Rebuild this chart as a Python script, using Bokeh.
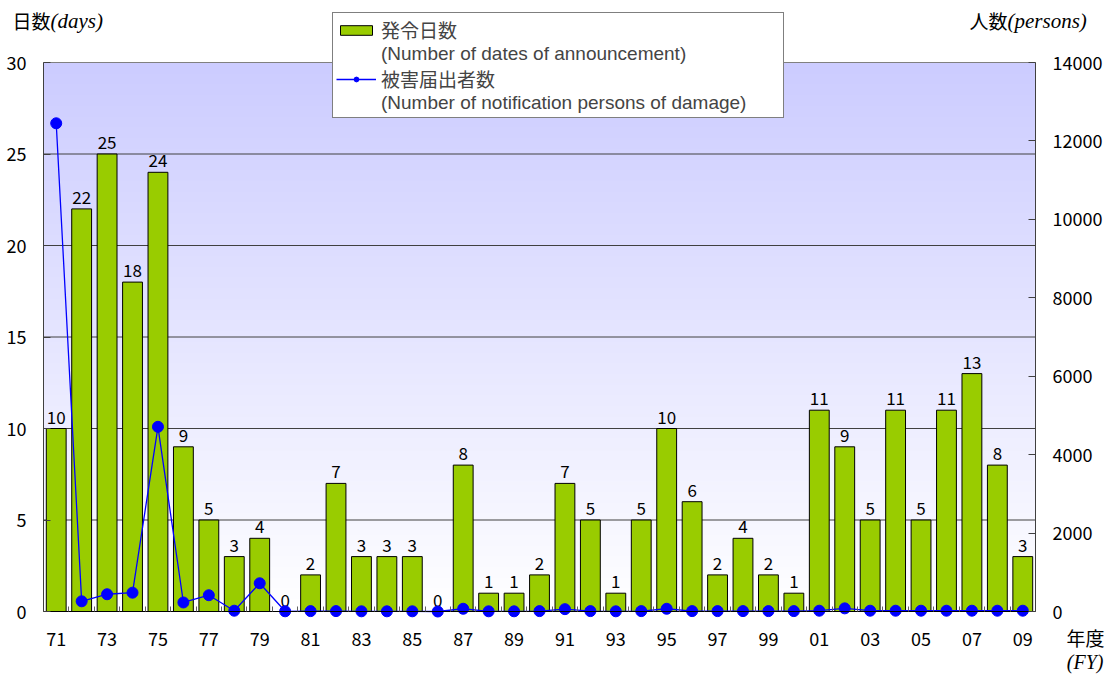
import numpy as np
from bokeh.plotting import figure
from bokeh.models import Range1d, LinearAxis, FixedTicker, Legend, LegendItem, Label
from bokeh.core.properties import value
from bokeh.embed import file_html
from bokeh.resources import INLINE

# ---------------- data ----------------
fiscal_years = [1971, 1972, 1973, 1974, 1975, 1976, 1977, 1978, 1979, 1980,
                1981, 1982, 1983, 1984, 1985, 1986, 1987, 1988, 1989, 1990,
                1991, 1992, 1993, 1994, 1995, 1996, 1997, 1998, 1999, 2000,
                2001, 2002, 2003, 2004, 2005, 2006, 2007, 2008, 2009]
year_labels = ["71", "72", "73", "74", "75", "76", "77", "78", "79", "80",
               "81", "82", "83", "84", "85", "86", "87", "88", "89", "90",
               "91", "92", "93", "94", "95", "96", "97", "98", "99", "00",
               "01", "02", "03", "04", "05", "06", "07", "08", "09"]
announcement_days = [10, 22, 25, 18, 24, 9, 5, 3, 4, 0,
                     2, 7, 3, 3, 3, 0, 8, 1, 1, 2,
                     7, 5, 1, 5, 10, 6, 2, 4, 2, 1,
                     11, 9, 5, 11, 5, 11, 13, 8, 3]
damage_persons = [12450, 260, 440, 480, 4710, 230, 415, 20, 720, 5,
                  10, 10, 5, 5, 5, 0, 70, 5, 5, 10,
                  60, 10, 5, 10, 70, 10, 10, 10, 10, 10,
                  20, 80, 20, 20, 20, 20, 20, 20, 20]
day_ticks = [0, 5, 10, 15, 20, 25, 30]
person_ticks = [0, 2000, 4000, 6000, 8000, 10000, 12000, 14000]
day_range = (0, 30)
person_range = (0, 14000)

# ---------------- layout / style ----------------
W, H = 1112, 674
PL, PR, PT, PB = 43, 1035, 62, 611   # plot-area edges in pixels

JP = "Noto Sans CJK JP"
LEGEND_FONT = "Liberation Sans, Noto Sans CJK JP"
SERIF = "Liberation Serif"
BAR_GREEN = "#99CC00"
BLUE = "#0000FF"

x0 = fiscal_years[0] - 0.5
x1 = fiscal_years[-1] + 0.5
xpp = (x1 - x0) / (PR - PL)
dpp = (day_range[1] - day_range[0]) / (PB - PT)
ppp = (person_range[1] - person_range[0]) / (PB - PT)

p = figure(width=W, height=H, output_backend="svg", toolbar_location=None,
           x_range=Range1d(x0 - PL * xpp, x1 + (W - PR) * xpp),
           y_range=Range1d(day_range[0] - (H - PB) * dpp, day_range[1] + PT * dpp),
           min_border_left=0, min_border_right=0, min_border_top=0, min_border_bottom=0)
p.extra_y_ranges = {"persons": Range1d(person_range[0] - (H - PB) * ppp,
                                       person_range[1] + PT * ppp)}
p.background_fill_color = "white"
p.border_fill_color = "white"
p.outline_line_color = None
p.xgrid.visible = False
p.ygrid.visible = False

# background gradient (lavender at top -> white at bottom)
n = 256
t = np.linspace(0.0, 1.0, n)[:, None]
top_rgb = np.array([204, 204, 255], dtype=float)[None, :]
bot_rgb = np.array([255, 255, 255], dtype=float)[None, :]
rgb = bot_rgb * (1 - t) + top_rgb * t
img = np.zeros((n, 1), dtype=np.uint32)
view = img.view(dtype=np.uint8).reshape((n, 1, 4))
view[:, 0, 0] = rgb[:, 0].astype(np.uint8)
view[:, 0, 1] = rgb[:, 1].astype(np.uint8)
view[:, 0, 2] = rgb[:, 2].astype(np.uint8)
view[:, 0, 3] = 255
p.image_rgba(image=[img], x=x0, y=day_range[0], dw=x1 - x0,
             dh=day_range[1] - day_range[0], level="image")

# horizontal grid lines limited to the plot area
inner = day_ticks[1:-1]
p.segment(x0=[x0] * len(inner), x1=[x1] * len(inner), y0=inner, y1=inner,
          line_color="#404040", line_width=1, level="underlay")
p.segment(x0=[x0], x1=[x1], y0=[day_range[1]], y1=[day_range[1]],
          line_color="#808080", line_width=1, level="underlay")

# bars
bars = p.vbar(x=fiscal_years, top=announcement_days, width=0.78,
              fill_color=BAR_GREEN, line_color="black", line_width=1)
p.text(x=fiscal_years, y=announcement_days, text=[str(d) for d in announcement_days],
       text_align="center", text_baseline="bottom", y_offset=-5,
       text_font=value(JP), text_font_size="17px", text_color="black")

# line
line = p.line(x=fiscal_years, y=damage_persons, y_range_name="persons",
              line_color=BLUE, line_width=1.3)
dots = p.scatter(x=fiscal_years, y=damage_persons, y_range_name="persons",
                 size=11, fill_color=BLUE, line_color=BLUE)

# axes (fixed at the plot-area edges)
tick_font = "18px"
yax = p.yaxis[0]
yax.fixed_location = x0
yax.bounds = day_range
yax.ticker = FixedTicker(ticks=day_ticks)
yax.major_tick_in = 7
yax.major_tick_out = 0
yax.minor_tick_line_color = None
yax.major_label_standoff = 17
yax.major_label_text_font = JP
yax.major_label_text_font_size = tick_font
yax.major_label_text_color = "black"
yax.axis_line_color = "#404040"
yax.major_tick_line_color = "#404040"

rax = LinearAxis(y_range_name="persons", ticker=FixedTicker(ticks=person_ticks),
                 fixed_location=x1, bounds=person_range)
rax.major_tick_in = 7
rax.major_tick_out = 0
rax.minor_tick_line_color = None
rax.major_label_standoff = 17
rax.major_label_text_font = JP
rax.major_label_text_font_size = tick_font
rax.major_label_text_color = "black"
rax.axis_line_color = "#404040"
rax.major_tick_line_color = "#404040"
p.add_layout(rax, "right")

boundaries = [y - 0.5 for y in fiscal_years] + [fiscal_years[-1] + 0.5]
xax = p.xaxis[0]
xax.fixed_location = day_range[0]
xax.bounds = (x0, x1)
xax.ticker = FixedTicker(ticks=fiscal_years[::2], minor_ticks=boundaries)
xax.major_label_overrides = {y: l for y, l in zip(fiscal_years, year_labels)}
xax.major_tick_in = 0
xax.major_tick_out = 0
xax.minor_tick_in = 5
xax.minor_tick_out = 0
xax.minor_tick_line_color = "#606060"
xax.major_label_standoff = 20
xax.major_label_text_font = JP
xax.major_label_text_font_size = tick_font
xax.major_label_text_color = "black"
xax.axis_line_color = "black"

# legend
blank1 = p.line(x=[], y=[], line_alpha=0)
blank2 = p.line(x=[], y=[], line_alpha=0)
legend = Legend(items=[
    LegendItem(label="発令日数", renderers=[bars]),
    LegendItem(label="(Number of dates of announcement)", renderers=[blank1]),
    LegendItem(label="被害届出者数", renderers=[line, dots]),
    LegendItem(label="(Number of notification persons of damage)", renderers=[blank2]),
], location=(332, H - 118))
legend.border_line_color = "black"
legend.border_line_width = 1
legend.background_fill_color = "white"
legend.background_fill_alpha = 1
legend.padding = 3
legend.spacing = -5
legend.margin = 0
legend.label_height = 20
legend.label_width = 399
legend.glyph_height = 12
legend.glyph_width = 40
legend.label_standoff = 5
legend.label_text_font = LEGEND_FONT
legend.label_text_font_size = "19px"
p.add_layout(legend, "center")

# axis titles
def add_label(x, y, text, font, size, style="normal", align="left"):
    p.add_layout(Label(x=x, y=H - y, x_units="screen", y_units="screen", text=text,
                       text_font=font, text_font_size=size, text_font_style=style,
                       text_align=align, text_baseline="middle", text_color="black"))

add_label(12, 20, "日数", JP, "19px")
add_label(50, 20, "(days)", SERIF, "21px", style="italic")
add_label(969, 20, "人数", JP, "19px")
add_label(1007, 20, "(persons)", SERIF, "21px", style="italic")
add_label(1104, 637, "年度", JP, "19px", align="right")
add_label(1103, 661, "(FY)", SERIF, "20px", style="italic", align="right")

open("out.html", "w").write(file_html(p, INLINE))
